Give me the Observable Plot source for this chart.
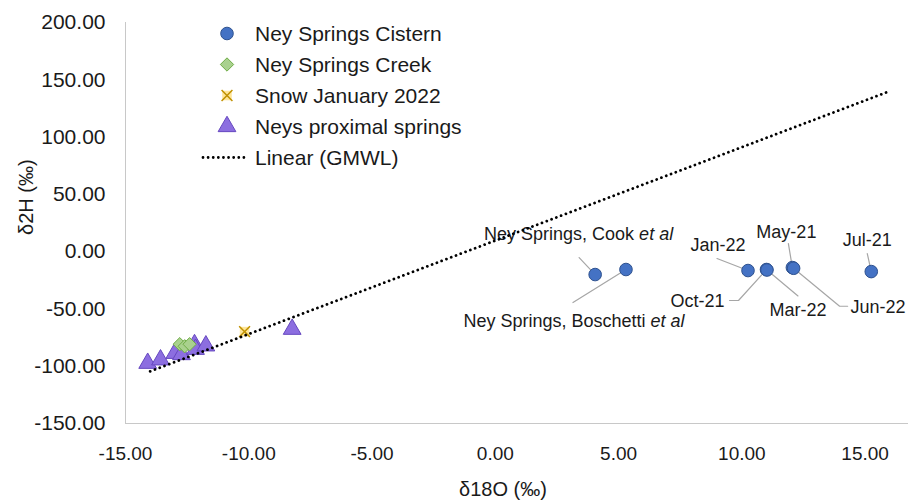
<!DOCTYPE html>
<html>
<head>
<meta charset="utf-8">
<script src="https://cdn.jsdelivr.net/npm/d3@7"></script>
<script src="https://cdn.jsdelivr.net/npm/@observablehq/plot@0.6"></script>
<style>
  html, body { margin: 0; padding: 0; background: #fff; }
  #chart { position: relative; width: 909px; height: 504px; font-family: "Liberation Sans", Arial, sans-serif; color: #1a1a1a; }
  #chart svg { display: block; }
  g[aria-label="y-axis tick label"] { font-size: 21px; }
  g[aria-label="x-axis tick label"] { font-size: 19px; }
  .legend { position: absolute; left: 200px; top: 18px; font-size: 21px; line-height: 31px; }
  .legend .row { display: flex; align-items: center; height: 31px; white-space: nowrap; }
  .legend svg { width: 52px; height: 31px; margin-right: 3px; flex: none; }
</style>
</head>
<body>
<div id="chart"></div>
<script>
// Axis ticks
const xTicks = [-15, -10, -5, 0, 5, 10, 15];
const yTicks = [-150, -100, -50, 0, 50, 100, 150, 200];

// Ney Springs Cistern (δ18O, δ2H), with sample labels
const cisternLabels = ["Ney Springs, Cook et al", "Ney Springs, Boschetti et al", "Jan-22", "Oct-21", "Mar-22", "May-21", "Jun-22", "Jul-21"];
const cisternO18 = [4.05, 5.3, 10.25, 11.0, 11.02, 12.05, 12.1, 15.25];
const cisternH2 = [-20.0, -15.6, -16.5, -15.6, -16.0, -13.9, -14.5, -17.4];

// Ney Springs Creek
const creekO18 = [-12.8, -12.6, -12.4];
const creekH2 = [-80.8, -82.6, -80.8];

// Snow January 2022
const snowO18 = [-10.17];
const snowH2 = [-69.8];

// Neys proximal springs
const proximalO18 = [-14.1, -13.58, -13.0, -12.73, -12.2, -12.16, -11.74, -8.24];
const proximalH2 = [-97.4, -94.4, -88.7, -89.8, -81.1, -85.2, -82.2, -67.7];

// Global meteoric water line (trendline end points)
const gmwlO18 = [-14.0, 15.95];
const gmwlH2 = [-104.5, 139.7];

// Legend entries
const legendNames = ["Ney Springs Cistern", "Ney Springs Creek", "Snow January 2022", "Neys proximal springs", "Linear (GMWL)"];

// ---- layout & styles ----
const W = 909, H = 504;
const M = {top: 22, right: 1, bottom: 81, left: 125};
const xDomain = [-15, 16.76];
const yDomain = [-150, 200];
const axisColor = "#c8c8c8";
const leaderColor = "#a6a6a6";
const textColor = "#1a1a1a";
const dotted = {stroke: "#000", strokeWidth: 2.8, strokeDasharray: "0.01,5.1", strokeLinecap: "round"};
const styles = {
  cistern: {fill: "#4472c4", stroke: "#2f528f"},
  creek: {fill: "#a9d18e", stroke: "#70ad47"},
  snowBox: {fill: "#ffe699", stroke: "none"},
  snowX: {stroke: "#bf9000"},
  proximal: {fill: "#8c6ee0", stroke: "#6648c0"}
};
const sizes = {cistern: 6.3, creek: 6, snowBox: 5.4, snowX: 5.0, proximal: 6.6};

// Label placement for each cistern sample: text offset in px from the point,
// text anchor, and leader-line vertices as px offsets from the point.
const labelLayout = [
  {t: [78, -40], anchor: "end", leader: [[-16, -17], [0, 0]]},
  {t: [-52, 52], anchor: "middle", leader: [[-53, 33], [0, 0]]},
  {t: [-30, -25], anchor: "middle", leader: [[-31, -12], [0, 0]]},
  {t: [-42, 32], anchor: "end", leader: [[-37, 31], [-28, 31], [0, 0]]},
  {t: [31, 40], anchor: "middle", leader: [[31, 26], [0, 0]]},
  {t: [-6, -35], anchor: "middle", leader: [[-4, -24], [0, 0]]},
  {t: [112, 39], anchor: "end", leader: [[0, 0], [46, 38], [54, 38]]},
  {t: [-4, -31], anchor: "middle", leader: [[-4, -18], [0, 0]]}
];

const xs = Plot.scale({x: {domain: xDomain, range: [M.left, W - M.right]}});
const ys = Plot.scale({y: {domain: yDomain, range: [H - M.bottom, M.top]}});

const zip = (xArr, yArr, label) => xArr.map((x, i) => ({x, y: yArr[i], label: label ? label[i] : undefined}));

const cistern = zip(cisternO18, cisternH2, cisternLabels);
const creek = zip(creekO18, creekH2);
const snow = zip(snowO18, snowH2);
const proximal = zip(proximalO18, proximalH2);
const gmwl = zip(gmwlO18, gmwlH2);

// Label and leader positions in data space via the scales
const labels = [];
const leaders = [];
cistern.forEach((d, i) => {
  const L = labelLayout[i];
  const px = xs.apply(d.x), py = ys.apply(d.y);
  labels.push({label: d.label, anchor: L.anchor, x: xs.invert(px + L.t[0]), y: ys.invert(py + L.t[1])});
  L.leader.forEach(([dx, dy]) => leaders.push({id: i, x: xs.invert(px + dx), y: ys.invert(py + dy)}));
});

const textMarks = ["start", "middle", "end"].map(a =>
  Plot.text(labels.filter(d => d.anchor === a), {x: "x", y: "y", text: "label", textAnchor: a, fontSize: 18, fill: textColor})
);

// Fixed two decimals with a plain hyphen for negatives
const fmt = d => d.toFixed(2);

const plot = Plot.plot({
  width: W, height: H,
  marginTop: M.top, marginRight: M.right, marginBottom: M.bottom, marginLeft: M.left,
  style: {fontFamily: '"Liberation Sans", Arial, sans-serif', color: textColor, background: "#fff"},
  x: {domain: xDomain, label: null},
  y: {domain: yDomain, label: null},
  marks: [
    Plot.ruleX([xDomain[0]], {stroke: axisColor, strokeWidth: 1}),
    Plot.ruleY([yDomain[0]], {stroke: axisColor, strokeWidth: 1}),
    Plot.axisX(xTicks, {tickSize: 0, tickPadding: 23, tickFormat: fmt, fill: textColor}),
    Plot.axisY(yTicks, {tickSize: 0, tickPadding: 20, tickFormat: fmt, fill: textColor}),
    Plot.text(["δ18O (‰)"], {frameAnchor: "bottom", dx: -14, dy: 72, fontSize: 20, fill: textColor}),
    Plot.text(["δ2H (‰)"], {frameAnchor: "left", rotate: -90, dx: -99, dy: 12, fontSize: 20, fill: textColor}),
    Plot.line(leaders, {x: "x", y: "y", z: "id", stroke: leaderColor, strokeWidth: 1.2}),
    ...textMarks,
    Plot.dot(proximal, {x: "x", y: "y", symbol: "triangle", r: sizes.proximal, ...styles.proximal, strokeWidth: 1}),
    Plot.dot(creek, {x: "x", y: "y", symbol: "diamond2", r: sizes.creek, ...styles.creek, strokeWidth: 1}),
    Plot.dot(snow, {x: "x", y: "y", symbol: "square", r: sizes.snowBox, ...styles.snowBox}),
    Plot.dot(snow, {x: "x", y: "y", symbol: "times", r: sizes.snowX, ...styles.snowX, strokeWidth: 1.5}),
    Plot.dot(cistern, {x: "x", y: "y", symbol: "circle", r: sizes.cistern, ...styles.cistern, strokeWidth: 1}),
    Plot.line(gmwl, {x: "x", y: "y", ...dotted})
  ]
});

// Italicise "et al" in the citation labels
d3.select(plot).selectAll("text").each(function () {
  const t = this.textContent;
  if (t.endsWith(" et al")) {
    const sel = d3.select(this);
    sel.text(t.slice(0, -5));
    sel.append("tspan").attr("font-style", "italic").text("et al");
  }
});

const chart = document.getElementById("chart");
chart.appendChild(plot);

// Legend drawn with the same symbol shapes and styles as the marks
const sym = (type, r) => d3.symbol(type, Math.PI * r * r)();
const swatches = [
  g => g.append("path").attr("d", sym(d3.symbolCircle, sizes.cistern)).attr("fill", styles.cistern.fill).attr("stroke", styles.cistern.stroke),
  g => g.append("path").attr("d", sym(d3.symbolDiamond2, sizes.creek)).attr("fill", styles.creek.fill).attr("stroke", styles.creek.stroke),
  g => {
    g.append("path").attr("d", sym(d3.symbolSquare, sizes.snowBox)).attr("fill", styles.snowBox.fill);
    g.append("path").attr("d", sym(d3.symbolTimes, sizes.snowX)).attr("fill", "none").attr("stroke", styles.snowX.stroke).attr("stroke-width", 1.5);
  },
  g => g.append("path").attr("d", sym(d3.symbolTriangle, sizes.proximal)).attr("fill", styles.proximal.fill).attr("stroke", styles.proximal.stroke),
  g => g.append("line").attr("x1", -24).attr("x2", 21).attr("stroke", dotted.stroke).attr("stroke-width", dotted.strokeWidth)
        .attr("stroke-dasharray", dotted.strokeDasharray).attr("stroke-linecap", dotted.strokeLinecap)
];
const legend = d3.select(chart).append("div").attr("class", "legend");
legendNames.forEach((name, i) => {
  const row = legend.append("div").attr("class", "row");
  const s = row.append("svg").attr("viewBox", "0 0 52 31");
  swatches[i](s.append("g").attr("transform", "translate(27,15.5)"));
  row.append("span").text(name);
});
</script>
</body>
</html>
